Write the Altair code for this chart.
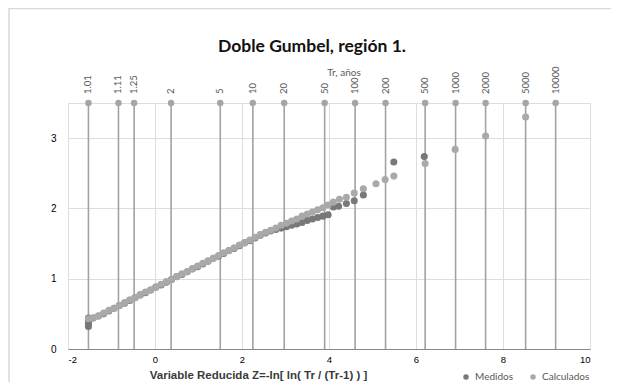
import altair as alt
import pandas as pd

# ---- data ----
tr_labels = ["1.01", "1.11", "1.25", "2", "5", "10", "20", "50", "100", "200",
             "500", "1000", "2000", "5000", "10000"]
tr_z = [-1.53, -0.84, -0.48, 0.37, 1.50, 2.25, 2.97, 3.90, 4.60, 5.30,
        6.21, 6.91, 7.60, 8.52, 9.21]
tr_top = 3.5

med_z = [-1.53, -1.53, -1.53, -1.53,
         -1.42, -1.30, -1.18, -1.06, -0.94, -0.82, -0.70, -0.58, -0.46, -0.34,
         -0.22, -0.10, 0.02, 0.14, 0.26, 0.38, 0.50, 0.62, 0.74, 0.86,
         0.98, 1.10, 1.22, 1.34, 1.46, 1.58, 1.70, 1.82, 1.94, 2.06,
         2.18, 2.30, 2.42, 2.54, 2.66, 2.78, 2.90, 3.02, 3.14, 3.26,
         3.38, 3.50, 3.62, 3.74, 3.86, 3.98,
         4.10, 4.22, 4.40, 4.58, 4.79, 5.49, 6.19]
med_y = [0.32, 0.36, 0.40, 0.44,
         0.44, 0.47, 0.50, 0.54, 0.58, 0.62, 0.65, 0.69, 0.73, 0.77,
         0.80, 0.84, 0.88, 0.91, 0.95, 0.99, 1.03, 1.06, 1.10, 1.14,
         1.17, 1.21, 1.25, 1.29, 1.32, 1.36, 1.40, 1.43, 1.47, 1.51,
         1.54, 1.58, 1.62, 1.65, 1.68, 1.70, 1.72, 1.74, 1.76, 1.78,
         1.80, 1.83, 1.85, 1.87, 1.89, 1.91,
         2.02, 2.03, 2.07, 2.11, 2.19, 2.66, 2.74]

cal_z = [-1.53,
         -1.42, -1.30, -1.18, -1.06, -0.94, -0.82, -0.70, -0.58, -0.46, -0.34,
         -0.22, -0.10, 0.02, 0.14, 0.26, 0.38, 0.50, 0.62, 0.74, 0.86,
         0.98, 1.10, 1.22, 1.34, 1.46, 1.58, 1.70, 1.82, 1.94, 2.06,
         2.18, 2.30, 2.42, 2.54, 2.66, 2.78, 2.90, 3.02, 3.14, 3.26,
         3.38, 3.50, 3.62, 3.74, 3.86, 3.98,
         4.10, 4.24, 4.40, 4.58, 4.79, 5.08, 5.29, 5.49, 6.21, 6.90, 7.60, 8.52]
cal_y = [0.43,
         0.44, 0.47, 0.51, 0.55, 0.58, 0.62, 0.66, 0.70, 0.73, 0.77,
         0.81, 0.84, 0.88, 0.92, 0.96, 0.99, 1.03, 1.07, 1.10, 1.14,
         1.18, 1.22, 1.25, 1.29, 1.33, 1.37, 1.40, 1.44, 1.48, 1.51,
         1.55, 1.59, 1.63, 1.66, 1.69, 1.72, 1.76, 1.79, 1.82, 1.85,
         1.89, 1.92, 1.95, 1.98, 2.01, 2.05,
         2.09, 2.13, 2.16, 2.22, 2.28, 2.35, 2.41, 2.46, 2.64, 2.84, 3.03, 3.30]

series_names = ["Medidos", "Calculados"]
series_colors = ["#787878", "#a9a9a9"]

x_ticks = [-2, 0, 2, 4, 6, 8, 10]
y_ticks = [0, 1, 2, 3]

title_text = "Doble Gumbel, región 1."
top_title = "Tr, años"
x_title = "Variable Reducida  Z=-ln[ ln( Tr / (Tr-1) ) ]"

# ---- tables ----
pts = pd.concat([
    pd.DataFrame({"z": med_z, "v": med_y, "serie": "Medidos"}),
    pd.DataFrame({"z": cal_z, "v": cal_y, "serie": "Calculados"}),
], ignore_index=True)
tr_df = pd.DataFrame({"z": tr_z, "label": tr_labels,
                      "lo": [0.0] * len(tr_z), "hi": [tr_top] * len(tr_z)})

FONT = "Lato"
W, H = 522, 246

xs = alt.Scale(domain=[-2, 10], nice=False, zero=False)
ys = alt.Scale(domain=[0, 3.5], nice=False)

x_axis = alt.Axis(values=x_ticks, title=x_title, grid=True, ticks=False,
                  labelPadding=5, labelExpr="'' + datum.value", labelFontSize=9.5,
                  titleFontWeight="bold", titleFontSize=11.5,
                  titleColor="#3a3a3a", titleX=190, titleY=29,
                  titleAlign="center", titleBaseline="alphabetic")
y_axis = alt.Axis(values=y_ticks, title=None, grid=True, ticks=False,
                  domain=False, labelPadding=12, labelExpr="'' + datum.value")

X = alt.X("z:Q", scale=xs, axis=x_axis)
Y = alt.Y("v:Q", scale=ys, axis=y_axis)

border = alt.Chart(pd.DataFrame({"k": [0]})).mark_rect(
    fill=None, stroke="#d9d9d9", strokeWidth=1.5).encode(
    x=alt.value(-59), x2=alt.value(560), y=alt.value(-94.5), y2=alt.value(300))

rules = alt.Chart(tr_df).mark_rule(color="#a2a2a2", strokeWidth=1.6).encode(
    x=alt.X("z:Q", scale=xs, axis=x_axis),
    y=alt.Y("lo:Q", scale=ys, axis=y_axis),
    y2="hi:Q")

top_dots = alt.Chart(tr_df).mark_circle(size=42, opacity=1, color="#a5a5a5").encode(
    x=alt.X("z:Q", scale=xs), y=alt.Y("hi:Q", scale=ys))

top_labels = alt.Chart(tr_df).mark_text(
    angle=270, align="left", baseline="middle", fontSize=9.5,
    font=FONT, color="#595959").encode(
    x=alt.X("z:Q", scale=xs), y=alt.value(-9), text="label:N")

points = alt.Chart(pts).mark_circle(size=50, opacity=1).encode(
    x=X, y=Y,
    color=alt.Color("serie:N",
                    scale=alt.Scale(domain=series_names, range=series_colors),
                    sort=series_names,
                    legend=alt.Legend(title=None, orient="none", direction="horizontal",
                                      legendX=393, legendY=269, symbolType="circle",
                                      symbolSize=30, labelFontSize=10, labelFont=FONT,
                                      labelColor="#595959", columnPadding=14,
                                      symbolOpacity=1)))

t1 = alt.Chart(pd.DataFrame({"t": [title_text]})).mark_text(
    font=FONT, fontSize=17.5, fontWeight="bold", color="#111111",
    align="center", baseline="middle").encode(
    text="t:N", x=alt.value(244), y=alt.value(-56))

t2 = alt.Chart(pd.DataFrame({"t": [top_title]})).mark_text(
    font=FONT, fontSize=10, color="#595959", align="center",
    baseline="middle").encode(text="t:N", x=alt.value(276), y=alt.value(-30))

chart = alt.layer(border, rules, points, top_dots, top_labels, t1, t2).properties(
    width=W, height=H,
    autosize=alt.AutoSizeParams(type="none"),
    padding={"left": 60, "top": 95, "right": 21, "bottom": 33},
).configure_view(stroke=None).configure_axis(
    labelFont=FONT, labelFontSize=10, labelColor="#595959",
    titleFont=FONT, gridColor="#ececec", gridWidth=1,
    domainColor="#d9d9d9",
).configure(background="white")

chart.save("out.html", embed_options={"renderer": "svg", "actions": False})
